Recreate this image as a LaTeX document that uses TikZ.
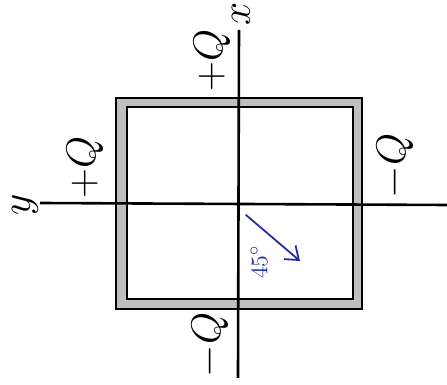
\documentclass[tikz,border=0pt]{standalone}
\usepackage{xcolor}
\usetikzlibrary{arrows.meta}
\definecolor{handblue}{RGB}{35,45,165}

\begin{document}
\begin{tikzpicture}[x=0.5pt,y=-0.5pt,
			lbl/.style={rotate=90, font=\fontsize{20}{24}\selectfont, inner sep=0pt},
			axis/.style={line width=1.3pt},
			frame/.style={draw, line width=0.8pt},
			hand/.style={draw=handblue, line width=0.9pt, line cap=round}]
			
			\useasboundingbox (0,0) rectangle (447,385);
			
			% the square frame
			\filldraw[frame, fill=black!25] (116,98) rectangle (362,309);
			\filldraw[frame, fill=white] (127,107) rectangle (353,299);
			
			% axes
			\coordinate (xtop) at (239,30);
			\coordinate (xbot) at (238,378);
			\coordinate (yleft) at (40,203);
			\coordinate (yright) at (447,205);
			\draw[axis] (xtop) -- (xbot);
			\draw[axis] (yleft) -- (yright);
			
			\node[lbl] (xlab) at (241,14) {$x$};
			\node[lbl] (ylab) at (25,205) {$y$};
			
			% charges
			\node[lbl] (qtop) at (212,60) {$+Q$};
			\node[lbl] (qleft) at (85,167) {$+Q$};
			\node[lbl] (qright) at (395,166) {$-Q$};
			\node[lbl] (qbot) at (210,345) {$-Q$};
			
			% angle mark
			\coordinate (astart) at (246,215);
			\coordinate (aend) at (300,261);
			\draw[hand, -{Straight Barb[length=6pt,width=9pt]}] (astart) -- (aend);
			\node[lbl, text=handblue, font=\fontsize{13}{15}\selectfont] (ang) at (259,262) {$45^\circ$};
			
		\end{tikzpicture}
\end{document}
